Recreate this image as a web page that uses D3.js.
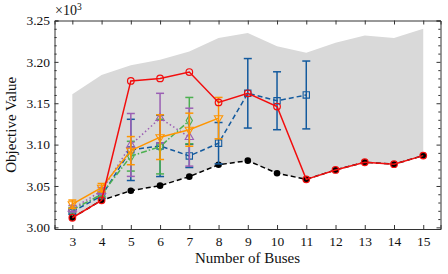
<!DOCTYPE html>
<html>
<head>
<meta charset="utf-8">
<script src="https://cdn.jsdelivr.net/npm/d3@7"></script>
<style>
  body { margin: 0; background: #fff; }
  svg text { font-family: "Liberation Serif", "DejaVu Serif", serif; fill: #111; }
</style>
</head>
<body>
<svg id="chart" width="448" height="274"></svg>
<script>
// values are objective values / 1000
const buses = [3, 4, 5, 6, 7, 8, 9, 10, 11, 12, 13, 14, 15]
const upperBound = [3.161, 3.184, 3.196, 3.2025, 3.2126, 3.229, 3.235, 3.219, 3.211, 3.223, 3.232, 3.229, 3.240]
const bestValue = [3.0116, 3.0327, 3.0443, 3.0504, 3.0613, 3.0756, 3.0806, 3.0654, 3.058, 3.0694, 3.0787, 3.0763, 3.0867]
const redValue = [3.0116, 3.0327, 3.177, 3.180, 3.1877, 3.151, 3.162, 3.146, 3.058, 3.0694, 3.0787, 3.0763, 3.0867]

const blueX = [3, 4, 5, 6, 7, 8, 9, 10, 11]
const blueMean = [3.019, 3.038, 3.0936, 3.0984, 3.0863, 3.1017, 3.162, 3.153, 3.160]
const blueErr = [0.003, 0.003, 0.037, 0.037, 0.014, 0.025, 0.042, 0.035, 0.041]

const greenX = [3, 4, 5, 6, 7]
const greenMean = [3.021, 3.040, 3.086, 3.0976, 3.129]
const greenErr = [0.003, 0.003, 0.018, 0.033, 0.028]

const purpleX = [3, 4, 5, 6, 7]
const purpleMean = [3.0225, 3.044, 3.0996, 3.132, 3.109]
const purpleErr = [0.004, 0.004, 0.038, 0.030, 0.035]

const orangeX = [3, 4, 5, 6, 7, 8]
const orangeMean = [3.028, 3.048, 3.0927, 3.109, 3.118, 3.132]
const orangeErr = [0.005, 0.005, 0.017, 0.027, 0.02, 0.025]

const yTicks = [3.00, 3.05, 3.10, 3.15, 3.20, 3.25]

const svg = d3.select("#chart")
const plotLeft = 54.5, plotRight = 440.5, plotTop = 20.5, plotBottom = 229

const xScale = d3.scaleLinear().domain([2.39, 15.59]).range([plotLeft, plotRight])
const yScale = d3.scaleLinear().domain([2.998, 3.25]).range([plotBottom, plotTop])

// gray band between best value and upper bound
const area = d3.area()
    .x((d, i) => xScale(buses[i]))
    .y0((d, i) => yScale(bestValue[i]))
    .y1(d => yScale(d))
svg.append("path")
    .attr("d", area(upperBound))
    .attr("fill", "#d9d9d9")

const line = (xs, ys) => d3.line()
    .x((d, i) => xScale(xs[i]))
    .y(d => yScale(d))(ys)

function errorSeries(xs, mean, err, color, dash, marker) {
    let g = svg.append("g")
    xs.forEach((x, i) => {
        let cx = xScale(x)
        let y1 = yScale(mean[i] + err[i]), y2 = yScale(mean[i] - err[i])
        g.append("line").attr("x1", cx).attr("x2", cx).attr("y1", y1).attr("y2", y2)
            .attr("stroke", color).attr("stroke-width", 1.5)
        ;[y1, y2].forEach(yy => {
            g.append("line").attr("x1", cx - 4).attr("x2", cx + 4).attr("y1", yy).attr("y2", yy)
                .attr("stroke", color).attr("stroke-width", 1.5)
        })
    })
    g.append("path").attr("d", line(xs, mean))
        .attr("fill", "none").attr("stroke", color).attr("stroke-width", 1.5)
        .attr("stroke-dasharray", dash)
    g.selectAll("path.m").data(mean).join("path")
        .attr("class", "m")
        .attr("d", d3.symbol().type(marker.type).size(marker.size))
        .attr("fill", "none").attr("stroke", color).attr("stroke-width", 1.1)
        .attr("transform", (d, i) => `translate(${xScale(xs[i])},${yScale(d)}) rotate(${marker.rot || 0})`)
}

// black dashed best value
svg.append("path").attr("d", line(buses, bestValue))
    .attr("fill", "none").attr("stroke", "#000").attr("stroke-width", 1.5)
    .attr("stroke-dasharray", "5,3")
svg.selectAll(".best").data(bestValue).join("circle")
    .attr("class", "best")
    .attr("cx", (d, i) => xScale(buses[i]))
    .attr("cy", d => yScale(d))
    .attr("r", 3.3)
    .attr("fill", "#000")

errorSeries(blueX, blueMean, blueErr, "#135a9e", "5,3", {type: d3.symbolSquare, size: 40})
errorSeries(greenX, greenMean, greenErr, "#4cb050", "6,2,1.5,2", {type: d3.symbolDiamond, size: 34})
errorSeries(purpleX, purpleMean, purpleErr, "#9b5fb4", "1.5,2.5", {type: d3.symbolTriangle, size: 30})
errorSeries(orangeX, orangeMean, orangeErr, "#ff9500", null, {type: d3.symbolTriangle, size: 30, rot: 180})

// red solid line with open circles
svg.append("path").attr("d", line(buses, redValue))
    .attr("fill", "none").attr("stroke", "#f20d0d").attr("stroke-width", 1.5)
svg.selectAll(".red").data(redValue).join("circle")
    .attr("class", "red")
    .attr("cx", (d, i) => xScale(buses[i]))
    .attr("cy", d => yScale(d))
    .attr("r", 3.3)
    .attr("fill", "none")
    .attr("stroke", "#f20d0d").attr("stroke-width", 1.2)

// axes, ticks pointing inward on all sides
const fontSize = "13.5px"
let xAxis = svg.append("g").attr("transform", `translate(0,${plotBottom})`)
    .call(d3.axisBottom(xScale).tickValues(buses).tickSize(-4).tickPadding(7).tickFormat(d3.format("d")))
xAxis.selectAll("text").style("font-size", fontSize)
svg.append("g").attr("transform", `translate(0,${plotTop})`)
    .call(d3.axisTop(xScale).tickValues(buses).tickSize(-4).tickFormat(""))

let yAxis = svg.append("g").attr("transform", `translate(${plotLeft},0)`)
    .call(d3.axisLeft(yScale).tickValues(yTicks).tickSize(-4).tickPadding(4.5).tickFormat(d3.format(".2f")))
yAxis.selectAll("text").style("font-size", fontSize)
svg.append("g").attr("transform", `translate(${plotRight},0)`)
    .call(d3.axisRight(yScale).tickValues(yTicks).tickSize(-4).tickFormat(""))

const minor = d3.range(3.00, 3.251, 0.01).filter(v => Math.round(v * 100) % 5 != 0)
svg.append("g").attr("transform", `translate(${plotLeft},0)`)
    .call(d3.axisLeft(yScale).tickValues(minor).tickSize(-2.2).tickFormat(""))
    .select(".domain").remove()
svg.append("g").attr("transform", `translate(${plotRight},0)`)
    .call(d3.axisRight(yScale).tickValues(minor).tickSize(-2.2).tickFormat(""))
    .select(".domain").remove()

svg.selectAll(".domain, .tick line").attr("stroke", "#333")

// labels
svg.append("text")
    .attr("x", (plotLeft + plotRight) / 2)
    .attr("y", 263)
    .attr("text-anchor", "middle")
    .style("font-size", "15px")
    .text("Number of Buses")

svg.append("text")
    .attr("transform", `translate(16,${(plotTop + plotBottom) / 2}) rotate(-90)`)
    .attr("text-anchor", "middle")
    .style("font-size", "15px")
    .text("Objective Value")

let mult = svg.append("text").attr("x", 55).attr("y", 15).style("font-size", "14px")
mult.append("tspan").text("×10")
mult.append("tspan").attr("dy", -5).style("font-size", "9.5px").text("3")
</script>
</body>
</html>
